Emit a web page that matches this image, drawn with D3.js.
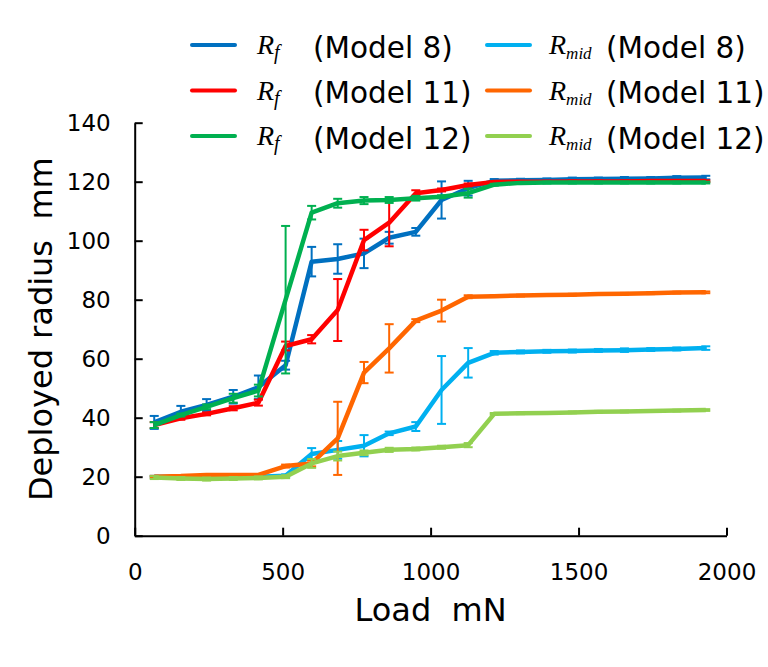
<!DOCTYPE html>
<html>
<head>
<meta charset="utf-8">
<script src="https://cdn.jsdelivr.net/npm/d3@7"></script>
<style>
    body { margin: 0; background: #fff; }
    svg { display: block; font-family: "DejaVu Sans", Verdana, sans-serif; }
</style>
</head>
<body>
<svg id="chart"></svg>
<script>
// load steps (mN), shared by all six series
const loads = [66, 156, 243, 333, 418, 510, 598, 686, 775, 860, 950, 1037, 1127,
    1215, 1304, 1393, 1479, 1567, 1655, 1744, 1832, 1930];

// deployed radius (mm) and error bar half-lengths
const rf8 = [38.4, 42.0, 44.3, 47.1, 50.3, 57.8, 92.9, 93.8, 95.7, 101.0, 103.0, 113.8, 117.8,
    120.3, 120.5, 120.6, 120.8, 120.9, 121.0, 121.1, 121.3, 121.4];
const rf8Err = [2.2, 2.0, 2.0, 2.3, 4.0, 1.5, 5.0, 5.0, 5.0, 2.0, 1.3, 6.3, 2.5,
    0.6, 0.5, 0.5, 0.6, 0.5, 0.6, 0.5, 0.6, 0.6];

const rf11 = [37.5, 39.8, 41.3, 43.2, 45.1, 64.3, 66.6, 76.5, 100.2, 106.1, 116.1, 117.2, 118.9,
    119.9, 120.0, 120.0, 120.1, 120.1, 120.1, 120.2, 120.2, 120.2];
const rf11Err = [1.0, 0.5, 0.5, 0.7, 1.0, 1.5, 1.4, 10.5, 3.5, 8.0, 1.0, 0.5, 0.5,
    0.3, 0.3, 0.3, 0.3, 0.3, 0.3, 0.3, 0.3, 0.3];

const rf12 = [37.5, 40.9, 43.7, 46.6, 49.2, 80.0, 109.5, 112.7, 113.6, 113.8, 114.4, 114.9, 116.1,
    119.0, 119.6, 119.7, 119.7, 119.7, 119.7, 119.7, 119.7, 119.7];
const rf12Err = [1.0, 0.5, 0.8, 1.5, 2.0, 25.0, 2.3, 1.5, 1.2, 1.0, 0.8, 0.5, 1.5,
    0.3, 0.3, 0.3, 0.3, 0.3, 0.3, 0.3, 0.3, 0.3];

const rmid8 = [20.0, 20.0, 20.0, 20.0, 20.0, 20.3, 27.7, 29.1, 30.5, 34.7, 37.0, 49.4, 58.6,
    62.0, 62.3, 62.5, 62.6, 62.8, 62.9, 63.1, 63.3, 63.6];
const rmid8Err = [0.3, 0.3, 0.3, 0.3, 0.3, 0.5, 2.0, 3.0, 3.6, 0.6, 1.5, 11.5, 5.0,
    0.6, 0.5, 0.5, 0.5, 0.5, 0.6, 0.5, 0.5, 0.6];

const rmid11 = [20.0, 20.2, 20.6, 20.6, 20.6, 23.6, 24.5, 33.0, 55.3, 63.5, 72.9, 76.3, 81.0,
    81.2, 81.4, 81.6, 81.7, 81.9, 82.0, 82.2, 82.4, 82.5];
const rmid11Err = [0.3, 0.3, 0.3, 0.3, 0.3, 0.5, 1.0, 12.4, 3.6, 8.2, 0.5, 3.7, 0.5,
    0.3, 0.3, 0.3, 0.3, 0.3, 0.3, 0.3, 0.3, 0.3];

const rmid12 = [19.7, 19.4, 19.2, 19.4, 19.6, 20.0, 24.5, 27.0, 28.1, 29.1, 29.4, 30.0, 30.7,
    41.3, 41.5, 41.6, 41.8, 42.0, 42.1, 42.3, 42.4, 42.6];
const rmid12Err = [0.5, 0.5, 0.5, 0.5, 0.5, 0.5, 1.5, 1.5, 0.8, 0.7, 0.5, 0.5, 0.7,
    0.3, 0.3, 0.3, 0.3, 0.3, 0.3, 0.3, 0.3, 0.3];

const models = ['8', '11', '12', '8', '11', '12'];
const symbols = ['f', 'f', 'f', 'mid', 'mid', 'mid'];
const xTicks = [0, 500, 1000, 1500, 2000];
const yTicks = [0, 20, 40, 60, 80, 100, 120, 140];

const series = [
    { values: rf8, err: rf8Err, color: '#0070c0' },
    { values: rf11, err: rf11Err, color: '#ff0000' },
    { values: rf12, err: rf12Err, color: '#00b050' },
    { values: rmid8, err: rmid8Err, color: '#00b0f0' },
    { values: rmid11, err: rmid11Err, color: '#ff6600' },
    { values: rmid12, err: rmid12Err, color: '#92d050' }
];

const width = 768;
const height = 667;
const svg = d3.select('#chart').attr('width', width).attr('height', height);

const xScale = d3.scaleLinear().domain([0, 2000]).range([134.7, 726.5]);
const yScale = d3.scaleLinear().domain([0, 140]).range([535.7, 122.7]);

// axes, ticks pointing inward
const xAxis = d3.axisBottom(xScale).tickValues(xTicks).tickFormat(d3.format('d'))
    .tickSize(-8).tickSizeOuter(0).tickPadding(28);
const yAxis = d3.axisLeft(yScale).tickValues(yTicks).tickFormat(d3.format('d'))
    .tickSize(-8).tickSizeOuter(0).tickPadding(24);

const gx = svg.append('g')
    .attr('transform', `translate(0, ${yScale(0)})`)
    .call(xAxis);
const gy = svg.append('g')
    .attr('transform', `translate(${xScale(0)}, 0)`)
    .call(yAxis);

[gx, gy].forEach(g => {
    g.selectAll('path, line').attr('stroke', '#000').attr('stroke-width', 2);
    g.selectAll('text').attr('font-size', 23).attr('fill', '#000')
        .attr('font-family', '"DejaVu Sans", Verdana, sans-serif');
});

svg.append('text')
    .attr('x', (xScale(0) + xScale(2000)) / 2)
    .attr('y', 621)
    .attr('text-anchor', 'middle')
    .attr('font-size', 32)
    .attr('xml:space', 'preserve')
    .text('Load  mN');

svg.append('text')
    .attr('transform', `translate(52, ${(yScale(0) + yScale(140)) / 2}) rotate(-90)`)
    .attr('text-anchor', 'middle')
    .attr('font-size', 32)
    .attr('xml:space', 'preserve')
    .text('Deployed radius  mm');

// error bars and lines
const line = d3.line()
    .x((d, i) => xScale(loads[i]))
    .y(d => yScale(d));

series.forEach(s => {
    const g = svg.append('g');
    s.values.forEach((v, i) => {
        const e = s.err[i];
        const x = xScale(loads[i]);
        const y1 = yScale(v + e);
        const y2 = yScale(v - e);
        g.append('line')
            .attr('x1', x).attr('x2', x).attr('y1', y1).attr('y2', y2)
            .attr('stroke', s.color).attr('stroke-width', 2);
        [y1, y2].forEach(y => {
            g.append('line')
                .attr('x1', x - 4.5).attr('x2', x + 4.5).attr('y1', y).attr('y2', y)
                .attr('stroke', s.color).attr('stroke-width', 2);
        });
    });
    g.append('path')
        .datum(s.values)
        .attr('fill', 'none')
        .attr('stroke', s.color)
        .attr('stroke-width', 4.5)
        .attr('stroke-linejoin', 'round')
        .attr('d', line);
});

// legend: two columns of three rows
const legendRows = [45, 90.5, 136];
const legendCols = [
    { lineX: 192, symX: 257, textX: 313 },
    { lineX: 487, symX: 549, textX: 606 }
];

series.forEach((s, i) => {
    const col = legendCols[Math.floor(i / 3)];
    const y = legendRows[i % 3];
    svg.append('line')
        .attr('x1', col.lineX).attr('x2', col.lineX + 43)
        .attr('y1', y).attr('y2', y)
        .attr('stroke', s.color).attr('stroke-width', 4)
        .attr('stroke-linecap', 'round');

    const sym = svg.append('text')
        .attr('x', col.symX)
        .attr('y', y + 9)
        .attr('font-family', '"Liberation Serif", "Times New Roman", serif')
        .attr('font-style', 'italic');
    sym.append('tspan').attr('font-size', 28).text('R');
    sym.append('tspan')
        .attr('font-size', symbols[i] === 'f' ? 20 : 17)
        .attr('dy', 5)
        .text(symbols[i]);

    svg.append('text')
        .attr('x', col.textX)
        .attr('y', y + 12.5)
        .attr('font-size', 29.5)
        .text(`(Model ${models[i]})`);
});
</script>
</body>
</html>
